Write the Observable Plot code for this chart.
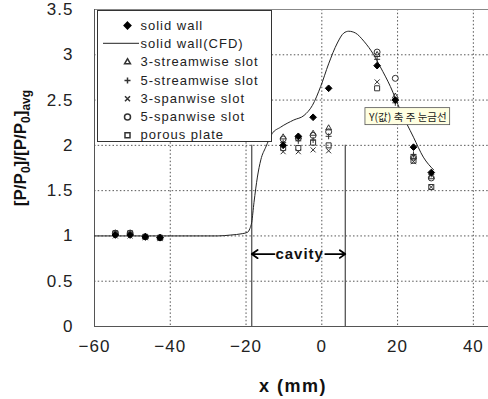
<!DOCTYPE html>
<html><head><meta charset="utf-8">
<script src="https://cdn.jsdelivr.net/npm/d3@7"></script>
<script src="https://cdn.jsdelivr.net/npm/@observablehq/plot@0.6"></script>
<style>body{margin:0;background:#fff}</style>
</head><body><div id="c"></div>
<script>
const xTicks = [-60, -40, -20, 0, 20, 40];
const yTicks = [0, 0.5, 1, 1.5, 2, 2.5, 3, 3.5];
const xPos = [-54.5, -50.6, -46.6, -42.7, -10.2, -6.2, -2.3, 1.8, 14.6, 19.4, 24.2, 28.9];
const solidWall   = [1.01, 1.01, 0.99, 0.98, 2.00, 2.10, 2.31, 2.63, 2.88, 2.50, 1.98, 1.70];
const stream3     = [1.03, 1.03, 0.99, 0.98, 2.09, 2.09, 2.13, 2.19, 3.00, 2.54, 1.87, 1.65];
const stream5     = [1.02, 1.02, 0.99, 0.98, 2.03, 2.05, 2.06, 2.10, 2.95, 2.47, 1.90, 1.68];
const span3       = [1.00, 1.00, 0.98, 0.97, 1.93, 1.93, 1.95, 1.94, 2.70, 2.32, 1.82, 1.54];
const span5       = [1.03, 1.03, 0.99, 0.98, 2.07, 2.08, 2.11, 2.15, 3.03, 2.74, 1.87, 1.64];
const porous      = [1.03, 1.03, 0.99, 0.98, 1.97, 1.97, 2.03, 2.00, 2.63, 2.26, 1.83, 1.54];
const cfdX = [-60, -40, -30, -27.5, -24, -21, -19.6, -19, -18.5, -17.9, -17, -16.1, -14.8, -13.1, -10.9, -7.4, -4.7, -2.5, -0.3, 1.8, 4.1, 5.8, 7.1, 8.9, 11.1, 13.7, 15.4, 18.1, 20.7, 24.2, 26.8, 29.5];
const cfdY = [1.0, 1.0, 1.0, 1.0, 1.01, 1.025, 1.04, 1.08, 1.15, 1.37, 1.65, 1.84, 1.98, 2.13, 2.2, 2.28, 2.33, 2.44, 2.65, 2.9, 3.13, 3.24, 3.26, 3.24, 3.15, 3.0, 2.87, 2.65, 2.39, 2.09, 1.87, 1.73];
const cavityEdges = [-18.5, 6.2];
const cavityTop = 2.0;
const cavityLabel = [{x: -5.85, y: 0.8, text: "cavity"}];
const cavityArrows = [{x1: -12.5, x2: -18.5, y: 0.8}, {x1: 0.9, x2: 6.2, y: 0.8}];
const tipNote = [{x: 22.7, y: 2.31, text: "Y(값) 축 주 눈금선"}];
const seriesNames = ["solid wall", "solid wall(CFD)", "3-streamwise slot", "5-streamwise slot", "3-spanwise slot", "5-spanwise slot", "porous plate"];

const series = [
  {name: seriesNames[0], values: solidWall, symbol: "diamond2", fill: "#000", stroke: "#000", r: 3},
  {name: seriesNames[2], values: stream3, symbol: "triangle2", fill: "none", stroke: "#333", r: 2.8},
  {name: seriesNames[3], values: stream5, symbol: "plus", fill: "none", stroke: "#333", r: 2.1},
  {name: seriesNames[4], values: span3, symbol: "times", fill: "none", stroke: "#333", r: 2.4},
  {name: seriesNames[5], values: span5, symbol: "circle", fill: "none", stroke: "#333", r: 3},
  {name: seriesNames[6], values: porous, symbol: "square2", fill: "none", stroke: "#333", r: 3.2}
];
const cfd = cfdX.map((x, i) => ({x, y: cfdY[i]}));

const grid = {stroke: "#555", strokeDasharray: "1.5,2.2", strokeWidth: 1};
const legendRowY = i => 16 + i * 18.3;

const dotMarks = series.map(s => Plot.dot(xPos.map((x, i) => ({x, y: s.values[i]})), {
  x: "x", y: "y", symbol: () => s.symbol, fill: s.fill, stroke: s.stroke, r: s.r, strokeWidth: 1
}));
const dotsOrdered = [...dotMarks.slice(1), dotMarks[0]];

const legendMarks = [];
seriesNames.forEach((name, i) => {
  const s = series.find(d => d.name === name);
  if (s) legendMarks.push(Plot.dot([name], {frameAnchor: "top-left", dx: 33, dy: legendRowY(i), symbol: () => s.symbol, fill: s.fill, stroke: s.stroke, r: s.r, ariaDescription: "legend"}));
  legendMarks.push(Plot.text([name], {frameAnchor: "top-left", dx: 46, dy: legendRowY(i), lineAnchor: "middle", text: d => d, textAnchor: "start", fontSize: 13, fill: "#222", ariaDescription: "legend"}));
});

const chart = Plot.plot({
  width: 488, height: 399,
  marginLeft: 94, marginRight: 0, marginTop: 9, marginBottom: 73,
  style: {fontFamily: "'Liberation Sans', Arial, sans-serif", fontSize: "17px", letterSpacing: "1px", color: "#222", background: "#fff"},
  x: {domain: [-60, 44], ticks: xTicks, tickSize: 0, tickPadding: 13, label: null},
  y: {domain: [0, 3.5], ticks: yTicks, tickSize: 0, tickPadding: 21, label: null, tickFormat: d => String(d)},
  marks: [
    Plot.ruleX(xTicks.filter(d => d > -60), grid),
    Plot.ruleY(yTicks.filter(d => d > 0 && d < 3.5), grid),
    Plot.ruleY([3.5], {stroke: "#888"}),
    Plot.ruleX([-60], {stroke: "#555"}),
    Plot.ruleY([0], {stroke: "#555"}),
    Plot.ruleX(cavityEdges, {y1: 0, y2: cavityTop, stroke: "#555", strokeWidth: 1.3}),
    Plot.line(cfd, {x: "x", y: "y", curve: "monotone-x", stroke: "#222", strokeWidth: 1}),
    ...dotsOrdered,
    ...legendMarks,
    Plot.arrow(cavityArrows, {x1: "x1", x2: "x2", y1: "y", y2: "y", stroke: "#000", strokeWidth: 1.8, headLength: 6, headAngle: 70}),
    Plot.text(cavityLabel, {x: "x", y: "y", text: "text", fontWeight: "bold", fontSize: 15, fill: "#111"}),
    Plot.text(tipNote, {x: "x", y: "y", text: "text", fontSize: 10.5, fill: "#222", fontFamily: "'Noto Sans CJK KR', sans-serif", ariaDescription: "tip"})
  ]
});
document.getElementById("c").appendChild(chart);

const svg = d3.select(chart);
const firstLegend = svg.select('g[aria-description="legend"]').node();
if (firstLegend) {
  svg.insert("rect", () => firstLegend)
    .attr("x", 97.5).attr("y", 10.5).attr("width", 174).attr("height", 131)
    .attr("fill", "#fff").attr("stroke", "#333").attr("stroke-width", 1);
  const ly = 9 + legendRowY(1);
  svg.insert("line", () => firstLegend)
    .attr("x1", 103).attr("x2", 139).attr("y1", ly).attr("y2", ly).attr("stroke", "#222");
}

const tipNode = svg.select('g[aria-description="tip"]').node();
if (tipNode) {
  d3.select(tipNode).attr("letter-spacing", 0);
  const bb = tipNode.getBBox();
  d3.select(tipNode).insert("rect", ":first-child").attr("x", bb.x - 3).attr("y", bb.y - 1).attr("width", bb.width + 6).attr("height", bb.height + 2)
    .attr("fill", "#ffffe1").attr("stroke", "#555").attr("stroke-width", 0.8);
}

svg.append("text").attr("x", 293).attr("y", 392).attr("text-anchor", "middle").attr("letter-spacing", 1.5)
  .attr("font-size", 18).attr("font-weight", "bold").attr("fill", "#111").text("x (mm)");
const yl = svg.append("text").attr("transform", "translate(26,148) rotate(-90)").attr("text-anchor", "middle")
  .attr("letter-spacing", 0).attr("font-size", 17).attr("font-weight", "bold").attr("fill", "#111");
yl.append("tspan").text("[P/P");
yl.append("tspan").attr("font-size", 12).attr("dy", 4).text("0");
yl.append("tspan").attr("dy", -4).text("]/[P/P");
yl.append("tspan").attr("font-size", 12).attr("dy", 4).text("0");
yl.append("tspan").attr("dy", -4).text("]");
yl.append("tspan").attr("font-size", 12).attr("dy", 4).text("avg");
</script></body></html>
